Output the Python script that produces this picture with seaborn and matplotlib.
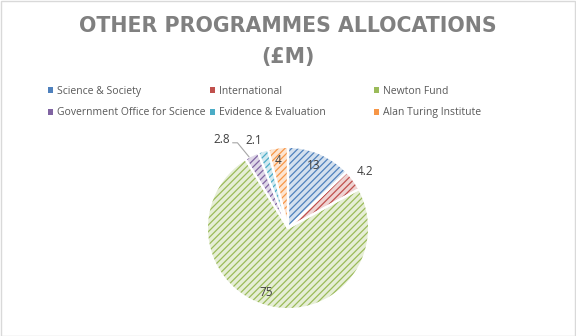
import matplotlib
matplotlib.use("Agg")
import matplotlib.pyplot as plt
import matplotlib.colors as mcolors
from matplotlib.patches import Rectangle, Patch
import numpy as np
import seaborn as sns

categories = ["Science & Society", "International", "Newton Fund",
              "Government Office for Science", "Evidence & Evaluation",
              "Alan Turing Institute"]
values = [13, 4.2, 75, 2.8, 2.1, 4]
value_labels = ["13", "4.2", "75", "2.8", "2.1", "4"]
title_line1 = "OTHER PROGRAMMES ALLOCATIONS"
title_line2 = "(£M)"

sns.set_theme(style="white")
plt.rcParams["font.family"] = ["Open Sans", "DejaVu Sans"]
plt.rcParams["hatch.linewidth"] = 0.9

colors = ["#4F81BD", "#C0504D", "#9BBB59", "#8064A2", "#4BACC6", "#F79646"]
tints = [mcolors.to_hex(0.25 * np.array(mcolors.to_rgb(c)) + 0.75) for c in colors]

W, H = 576, 336
fig = plt.figure(figsize=(W / 100, H / 100), dpi=100)
fig.patch.set_facecolor("white")
fig.add_artist(Rectangle((0.5 / W, 0.5 / H), 1 - 1.5 / W, 1 - 1.5 / H,
                         transform=fig.transFigure, fill=False,
                         edgecolor="#d9d9d9", linewidth=1.0))

# pie axes: centre (288, 228) px, radius 78 px
cx, cy, R, lim = 288, 228, 78, 1.3
side = 2 * lim * R
ax = fig.add_axes([(cx - side / 2) / W, (H - cy - side / 2) / H, side / W, side / H])
ax.set_xlim(-lim, lim)
ax.set_ylim(-lim, lim)
ax.set_aspect("equal")
ax.axis("off")

wedges, _ = ax.pie(values, colors=tints, startangle=90, counterclock=False,
                   wedgeprops=dict(linewidth=0))
for w, c in zip(wedges, colors):
    w.set_edgecolor(c)
    w.set_hatch("/////")
    w.set_linewidth(0)
ax.pie(values, colors=["none"] * len(values), startangle=90, counterclock=False,
       wedgeprops=dict(linewidth=1.6, edgecolor="white", facecolor="none"))

# label placement: (radius, angle offset in degrees) per slice
label_place = [(0.83, 1), (1.18, 0), (0.84, -4), (1.36, 10), (1.16, 3), (0.84, 1)]
for w, lab, (r, dth) in zip(wedges, value_labels, label_place):
    mid = (w.theta1 + w.theta2) / 2
    ang = np.deg2rad(mid + dth)
    x, y = r * np.cos(ang), r * np.sin(ang)
    ax.text(x, y, lab, ha="center", va="center", fontsize=8.5, color="#404040")
    if lab == "2.8":
        e = np.deg2rad(mid + 2)
        ex, ey = np.cos(e), np.sin(e)
        ax.plot([x + 0.13, x + 0.19, ex], [y - 0.04, y - 0.04, ey],
                color="#a6a6a6", linewidth=0.8, clip_on=False)

fig.text(0.5, 1 - 32 / H, title_line1, ha="center", va="baseline",
         fontsize=14.8, color="#808080", fontweight="bold",
         family=["DejaVu Sans"])
fig.text(0.5, 1 - 63 / H, title_line2, ha="center", va="baseline",
         fontsize=14.8, color="#808080", fontweight="bold",
         family=["DejaVu Sans"])

handles = [Patch(facecolor=c, edgecolor="none") for c in colors]
col_x = [48, 210, 374]
for k in range(3):
    leg = fig.legend([handles[k], handles[k + 3]], [categories[k], categories[k + 3]],
                     ncol=1, loc="upper left",
                     bbox_to_anchor=(col_x[k] / W, 1 - 86 / H), frameon=False,
                     fontsize=7.5, handlelength=0.45, handleheight=0.45,
                     handletextpad=0.4, labelspacing=1.0,
                     borderaxespad=0, borderpad=0)
    for t in leg.get_texts():
        t.set_color("#595959")

fig.savefig("out.png", dpi=100)
